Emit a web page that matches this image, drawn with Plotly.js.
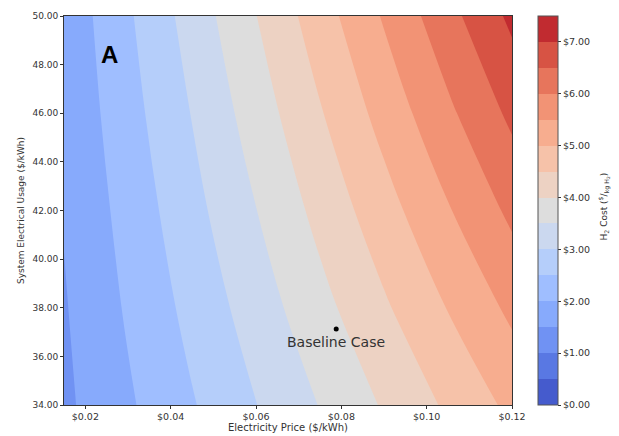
<!DOCTYPE html>
<html>
<head>
<meta charset="utf-8">
<script src="https://cdn.plot.ly/plotly-3.0.1.min.js"></script>
<style>html,body{margin:0;padding:0;background:#fff;}#chart{width:619px;height:436px;}</style>
</head>
<body>
<div id="chart"></div>
<script>
// Electricity price ($/kWh) grid
var price = [0.015, 0.03, 0.045, 0.06, 0.075, 0.09, 0.105, 0.12];
// System electrical usage grid
var usage = [34, 38, 42, 46, 50];
var cost = [
  [1.40, 1.93, 2.46, 2.99, 3.52, 4.05, 4.58, 5.12],
  [1.46, 2.06, 2.65, 3.24, 3.84, 4.43, 5.02, 5.61],
  [1.53, 2.18, 2.84, 3.49, 4.15, 4.80, 5.46, 6.11],
  [1.59, 2.31, 3.02, 3.74, 4.46, 5.18, 5.90, 6.61],
  [1.65, 2.43, 3.21, 3.99, 4.77, 5.55, 6.33, 7.11]
];
var baselinePrice = [0.0788];
var baselineUsage = [37.13];
var baselineLabel = "Baseline Case";
var xTicks = [0.02, 0.04, 0.06, 0.08, 0.10, 0.12];
var xTickText = ["$0.02", "$0.04", "$0.06", "$0.08", "$0.10", "$0.12"];
var yTicks = [34, 36, 38, 40, 42, 44, 46, 48, 50];
var yTickText = ["34.00", "36.00", "38.00", "40.00", "42.00", "44.00", "46.00", "48.00", "50.00"];
var cbTicks = [0, 1, 2, 3, 4, 5, 6, 7];
var cbTickText = ["$0.00", "$1.00", "$2.00", "$3.00", "$4.00", "$5.00", "$6.00", "$7.00"];
// coolwarm band colours (15 levels, 0 to 7.5 step 0.5)
var bandColors = [
  "rgb(69,91,205)", "rgb(89,120,227)", "rgb(112,146,243)", "rgb(135,170,252)",
  "rgb(159,190,255)", "rgb(181,206,250)", "rgb(203,216,239)", "rgb(221,221,221)",
  "rgb(237,210,195)", "rgb(246,194,169)", "rgb(247,173,143)", "rgb(242,147,117)",
  "rgb(231,117,92)", "rgb(215,83,68)", "rgb(193,43,48)"
];

var scale = [];
var nb = bandColors.length;
for (var i = 0; i < nb; i++) {
  scale.push([i / nb, bandColors[i]]);
  scale.push([(i + 1) / nb, bandColors[i]]);
}

var font = "DejaVu Sans, sans-serif";
var data = [
  {
    type: "contour",
    x: price, y: usage, z: cost,
    zmin: 0, zmax: 7.5,
    autocontour: false,
    contours: {start: 0, end: 7.5, size: 0.5, coloring: "fill", showlines: false},
    line: {width: 0},
    colorscale: scale,
    colorbar: {
      x: 1.058, xanchor: "left", y: 0.5, yanchor: "middle",
      len: 1, lenmode: "fraction", thickness: 20,
      outlinewidth: 1, outlinecolor: "#555",
      tickmode: "array", tickvals: cbTicks, ticktext: cbTickText,
      ticks: "outside", ticklen: 3, tickcolor: "#333",
      tickfont: {family: font, size: 9.5, color: "#333"},
      xpad: 0, ypad: 0
    },
    hoverinfo: "skip"
  },
  {
    type: "scatter", mode: "markers",
    x: baselinePrice, y: baselineUsage,
    marker: {color: "#000", size: 5},
    showlegend: false, hoverinfo: "skip"
  }
];

var layout = {
  width: 619, height: 436,
  margin: {l: 64, r: 107, t: 16, b: 31},
  paper_bgcolor: "#fff", plot_bgcolor: "#fff",
  font: {family: font, color: "#333"},
  showlegend: false,
  xaxis: {
    range: [0.015, 0.12], tickmode: "array", tickvals: xTicks, ticktext: xTickText,
    ticks: "outside", ticklen: 3, tickcolor: "#333",
    showline: true, linecolor: "#333", linewidth: 1, mirror: true,
    showgrid: false, zeroline: false,
    tickfont: {family: font, size: 9.5, color: "#333"},
    title: {text: "Electricity Price ($/kWh)", font: {family: font, size: 10, color: "#333"}, standoff: 2}
  },
  yaxis: {
    range: [34, 50], tickmode: "array", tickvals: yTicks, ticktext: yTickText,
    ticks: "outside", ticklen: 3, tickcolor: "#333",
    showline: true, linecolor: "#333", linewidth: 1, mirror: true,
    showgrid: false, zeroline: false,
    tickfont: {family: font, size: 9, color: "#333"},
    title: {text: "System Electrical Usage ($/kWh)", font: {family: font, size: 9, color: "#333"}, standoff: 6}
  },
  annotations: [
    {x: 0.0256, y: 48.4, xref: "x", yref: "y", text: "<b>A</b>", showarrow: false,
     font: {family: "Liberation Sans, Arial, sans-serif", size: 24, color: "#000"}},
    {x: baselinePrice[0], y: baselineUsage[0], xref: "x", yref: "y", text: baselineLabel,
     showarrow: false, yshift: -13, font: {family: font, size: 14, color: "#333"}},
    {x: 1.205, y: 0.51, xref: "paper", yref: "paper", xanchor: "center", textangle: -90, showarrow: false,
     text: "H<sub>2</sub> Cost (<sup>$</sup>/<sub>kg H<sub>2</sub></sub>)",
     font: {family: font, size: 9, color: "#333"}}
  ]
};

Plotly.newPlot("chart", data, layout, {displayModeBar: false, staticPlot: true});
</script>
</body>
</html>
